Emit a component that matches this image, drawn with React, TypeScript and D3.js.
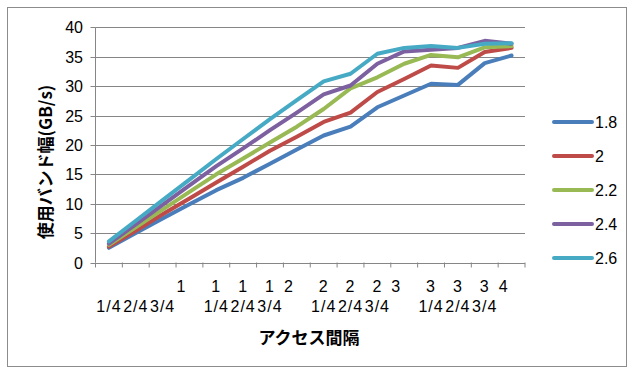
import React from "react";
import * as d3 from "d3";

const categories = [
  "1/4", "2/4", "3/4", "1",
  "1 1/4", "1 2/4", "1 3/4", "2",
  "2 1/4", "2 2/4", "2 3/4", "3",
  "3 1/4", "3 2/4", "3 3/4", "4",
];

const seriesNames = ["1.8", "2", "2.2", "2.4", "2.6"];
const s18 = [2.5, 5.0, 7.5, 9.9, 12.3, 14.4, 16.8, 19.2, 21.6, 23.1, 26.4, 28.4, 30.4, 30.2, 33.9, 35.2];
const s20 = [2.7, 5.4, 8.2, 10.9, 13.6, 16.3, 19.0, 21.4, 23.9, 25.5, 29.0, 31.2, 33.5, 33.1, 35.8, 36.5];
const s22 = [3.0, 6.0, 9.0, 12.0, 15.0, 17.7, 20.4, 23.1, 26.1, 29.6, 31.5, 33.8, 35.3, 34.9, 36.6, 36.8];
const s24 = [3.2, 6.5, 9.8, 13.1, 16.4, 19.4, 22.5, 25.5, 28.6, 30.1, 33.8, 35.9, 36.2, 36.5, 37.7, 37.2];
const s26 = [3.6, 7.1, 10.6, 14.1, 17.6, 21.0, 24.4, 27.6, 30.8, 32.1, 35.5, 36.5, 36.8, 36.5, 37.2, 37.3];
const seriesValues = [s18, s20, s22, s24, s26];
const colors = ["#4A7EBB", "#BE4B48", "#98B954", "#7D60A0", "#46AAC5"];
const yTicks = [0, 5, 10, 15, 20, 25, 30, 35, 40];
const yTitle = "使用バンド幅(GB/s)";
const xTitle = "アクセス間隔";

const W = 633;
const H = 370;
const plot = { left: 95.5, right: 525, top: 27.3, bottom: 262.5 };
const font = "'Liberation Sans', Arial, sans-serif";
const cjk = "'Noto Sans CJK JP', sans-serif";

export default function App() {
  const x = d3.scaleBand<string>().domain(categories).range([plot.left, plot.right]);
  const y = d3.scaleLinear().domain([0, 40]).range([plot.bottom, plot.top]);
  const cx = (c: string) => (x(c) as number) + x.bandwidth() / 2;
  const line = d3
    .line<number>()
    .x((_, i) => cx(categories[i]))
    .y((v) => y(v));

  const tickEdges = d3.range(categories.length + 1).map((i) => plot.left + i * x.bandwidth());

  return (
    <svg
      width={W}
      height={H}
      style={{ position: "absolute", left: 0, top: 0, background: "#fff" }}
    >
      <rect x={7.5} y={7.5} width={619} height={359} fill="#fff" stroke="#8c8c8c" strokeWidth={1} />
      {/* gridlines */}
      {yTicks.filter((t) => t > 0).map((t) => (
        <line key={t} x1={plot.left} x2={plot.right} y1={Math.round(y(t)) + 0.5} y2={Math.round(y(t)) + 0.5} stroke="#868686" strokeWidth={1} />
      ))}
      {/* y axis */}
      <line x1={plot.left} x2={plot.left} y1={plot.top} y2={plot.bottom} stroke="#868686" />
      {yTicks.map((t) => (
        <g key={t}>
          <line x1={plot.left - 5} x2={plot.left} y1={Math.round(y(t)) + 0.5} y2={Math.round(y(t)) + 0.5} stroke="#868686" />
          <text x={83} y={y(t) + 6} textAnchor="end" fontFamily={font} fontSize={16} fill="#000">
            {t}
          </text>
        </g>
      ))}
      {/* x axis */}
      <line x1={plot.left} x2={plot.right} y1={Math.round(plot.bottom) + 0.5} y2={Math.round(plot.bottom) + 0.5} stroke="#868686" />
      {tickEdges.map((e, i) => (
        <line key={i} x1={e} x2={e} y1={plot.bottom} y2={plot.bottom + 5} stroke="#868686" />
      ))}
      {categories.map((c) => {
        const parts = c.split(" ");
        const isInt = parts.length === 1 && !c.includes("/");
        const isFrac = parts.length === 1 && c.includes("/");
        return (
          <g key={c} fontFamily={font} fontSize={16} fill="#000" letterSpacing={1}>
            {isInt && (
              <text x={cx(c) - 8} y={292} textAnchor="middle">{c}</text>
            )}
            {isFrac && (
              <text x={cx(c)} y={312} textAnchor="middle">{c}</text>
            )}
            {parts.length === 2 && (
              <>
                <text x={cx(c)} y={292} textAnchor="middle">{parts[0]}</text>
                <text x={cx(c)} y={312} textAnchor="middle">{parts[1]}</text>
              </>
            )}
          </g>
        );
      })}
      {/* series */}
      {seriesValues.map((vals, i) => (
        <path key={i} d={line(vals) as string} fill="none" stroke={colors[i]} strokeWidth={4} strokeLinejoin="round" strokeLinecap="round" />
      ))}
      {/* titles */}
      <text
        transform={`translate(52,162) rotate(-90)`}
        textAnchor="middle"
        fontFamily={cjk}
        fontWeight="bold"
        fontSize={17}
        fill="#000"
      >
        {yTitle}
      </text>
      <text x={309} y={344} textAnchor="middle" fontFamily={cjk} fontWeight="bold" fontSize={17} fill="#000">
        {xTitle}
      </text>
      {/* legend */}
      {seriesNames.map((n, i) => {
        const ly = 122 + i * 34;
        return (
          <g key={n}>
            <line x1={554} x2={592} y1={ly} y2={ly} stroke={colors[i]} strokeWidth={4} strokeLinecap="round" />
            <text x={595} y={ly + 6} fontFamily={font} fontSize={16} fill="#000">{n}</text>
          </g>
        );
      })}
    </svg>
  );
}
